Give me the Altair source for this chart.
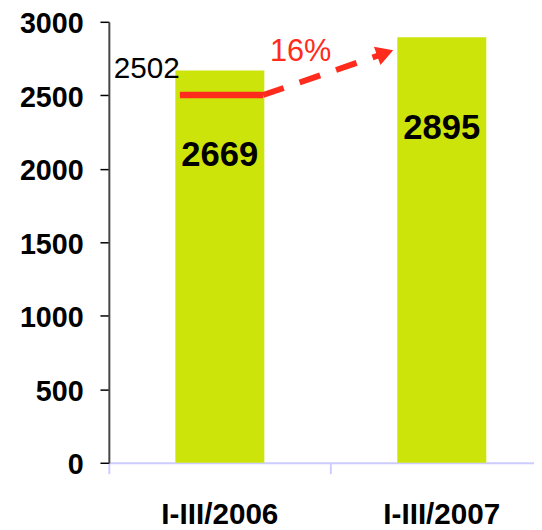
import altair as alt
import pandas as pd

# ---- data ----
categories = ["I-III/2006", "I-III/2007"]
values = [2669, 2895]
base_value = 2502
growth_label = "16%"
# annotation path, in band units (0..2 across the two categories)
base_line_x = [0.32, 0.695]
arrow_x = [0.695, 1.233]
arrow_y = [2502, 2781]
growth_pos_x = [0.864]
growth_pos_y = [2736]
y_ticks = [0, 500, 1000, 1500, 2000, 2500, 3000]

FONT = "Liberation Sans"
RED = "#ff2b1c"
LIME = "#cde40b"
PLOT_RANGE = [0, 449]

bars_df = pd.DataFrame({"period": categories, "value": values})
base_df = pd.DataFrame({"x": base_line_x, "value": [base_value] * len(base_line_x)})
arrow_df = pd.DataFrame({"x": arrow_x, "value": arrow_y})
head_df = pd.DataFrame({"x": [arrow_x[-1]], "value": [arrow_y[-1]]})
base_label_df = pd.DataFrame({"x": [0], "value": [base_value], "label": [str(base_value)]})
growth_df = pd.DataFrame({"x": growth_pos_x, "value": growth_pos_y, "label": [growth_label]})

yscale = alt.Scale(domain=[0, 3000], nice=False, zero=True)

xband = alt.X(
    "period:N",
    sort=categories,
    scale=alt.Scale(range=PLOT_RANGE, paddingInner=0, paddingOuter=0),
    axis=alt.Axis(
        title=None, labelAngle=0, labelFont=FONT, labelFontSize=30,
        labelFontWeight="bold", labelColor="black", labelPadding=26,
        domainColor="#ccccff", domainWidth=2, tickColor="#ccccff",
        tickWidth=2, tickSize=11, bandPosition=0, tickExtra=False,
        grid=False,
    ),
)
yenc = alt.Y(
    "value:Q",
    scale=yscale,
    axis=alt.Axis(
        title=None, values=y_ticks, format="d", labelFont=FONT, labelFontSize=29,
        labelFontWeight="bold", labelColor="black", labelPadding=17,
        labelOffset=2, tickSize=9, tickColor="black", tickWidth=1.5,
        domainColor="#444444", domainWidth=2, grid=False,
    ),
)

xq = alt.X("x:Q", scale=alt.Scale(domain=[0, 2], range=PLOT_RANGE, nice=False, zero=False), axis=None)

bars = alt.Chart(bars_df).mark_bar(size=90, color=LIME).encode(x=xband, y=yenc)

lab_common = dict(font=FONT, fontSize=35, fontWeight="bold", color="black",
                  align="center", baseline="alphabetic")
lab1 = alt.Chart(bars_df).transform_filter(
    alt.datum.period == categories[0]
).mark_text(dy=97, **lab_common).encode(x=xband, y=yenc, text="value:Q")
lab2 = alt.Chart(bars_df).transform_filter(
    alt.datum.period == categories[1]
).mark_text(dy=103, **lab_common).encode(x=xband, y=yenc, text="value:Q")

bar_layer = alt.layer(bars, lab1, lab2)

base_line = alt.Chart(base_df).mark_line(color=RED, strokeWidth=6.5, strokeCap="butt").encode(x=xq, y=yenc)
arrow_line = alt.Chart(arrow_df).mark_line(
    color=RED, strokeWidth=6, strokeCap="butt", strokeDash=[22, 17]
).encode(x=xq, y=yenc)
arrow_head = alt.Chart(head_df).mark_point(
    shape="M1,0L-0.5,-0.866L-0.5,0.866Z", filled=True, size=520, angle=340.6,
    color=RED, opacity=1, strokeWidth=0,
).encode(x=xq, y=yenc)

base_label = alt.Chart(base_label_df).mark_text(
    font=FONT, fontSize=30, color="black", align="left", baseline="alphabetic", dx=5, dy=-17
).encode(x=xq, y=yenc, text="label:N")
growth_text = alt.Chart(growth_df).mark_text(
    font=FONT, fontSize=31, color=RED, align="center", baseline="alphabetic"
).encode(x=xq, y=yenc, text="label:N")

chart = alt.layer(
    bar_layer, base_line, arrow_line, arrow_head, base_label, growth_text
).resolve_scale(x="independent").properties(
    width=424, height=446,
    padding={"left": 102, "top": 11, "right": 6, "bottom": 64},
    autosize=alt.AutoSizeParams(type="none"),
    background="white",
).configure_view(stroke=None)

chart.save("out.html", embed_options={"renderer": "svg", "actions": False})
